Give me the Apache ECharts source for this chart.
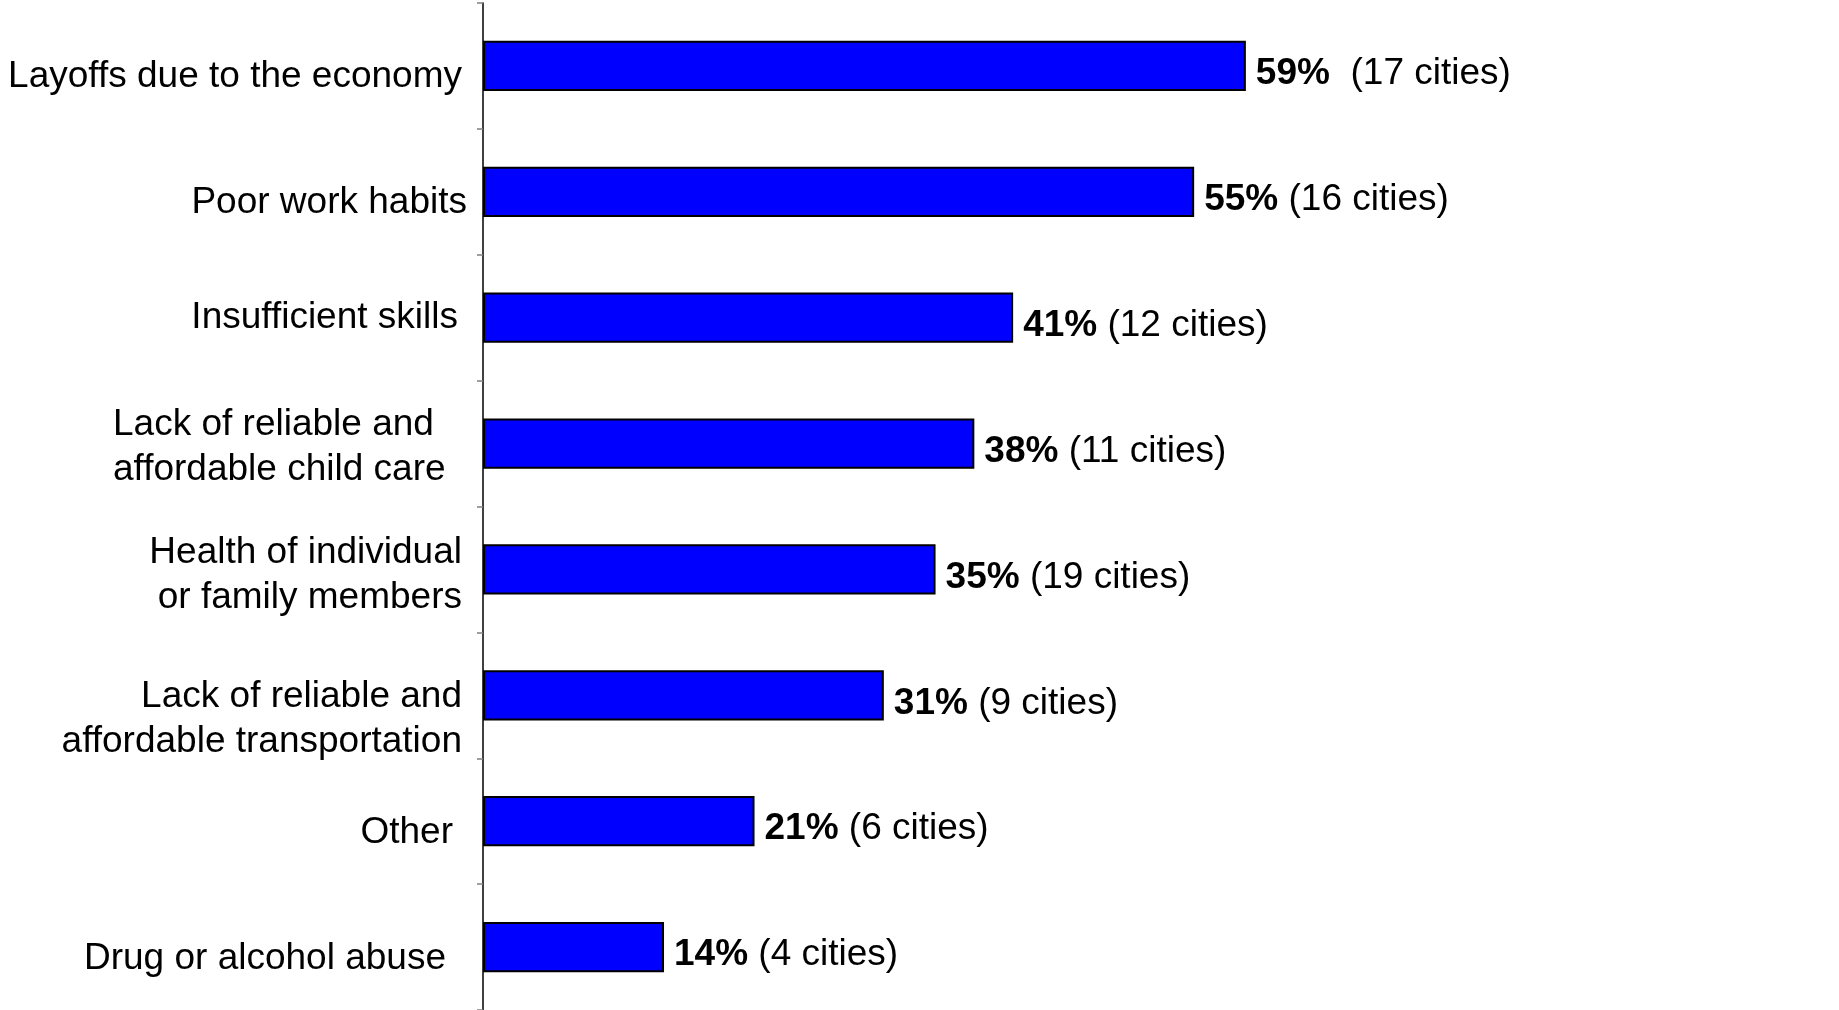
<!DOCTYPE html>
<html>
<head>
<meta charset="utf-8">
<title>Reasons for requests</title>
<script src="https://cdn.jsdelivr.net/npm/echarts@6/dist/echarts.min.js"></script>
<style>
  html, body { margin: 0; padding: 0; background: #fff; }
  #chart { width: 1839px; height: 1010px; }
</style>
</head>
<body>
<div id="chart"></div>
<script>
// Categories, top to bottom
const categories = [
  'Layoffs due to the economy',
  'Poor work habits',
  'Insufficient skills',
  'Lack of reliable and\naffordable child care',
  'Health of individual\nor family members',
  'Lack of reliable and\naffordable transportation',
  'Other',
  'Drug or alcohol abuse'
];

// Share of cities citing each reason (%)
const percentValues = [59, 55, 41, 38, 35, 31, 21, 14];

// Number of cities behind each share
const cityCounts = [17, 16, 12, 11, 19, 9, 6, 4];

// Per-label nudges for the category text: [top, right, bottom]
const labelNudge = [
  [22, 5, 0],
  [21, 0, 0],
  [0, 9, 0],
  [8, 22, 0],
  [12, 5, 0],
  [48, 5, 0],
  [24, 14, 0],
  [24, 21, 0]
];

const FONT = '"Liberation Sans", Arial, Helvetica, sans-serif';
const SIZE = 37;

const chart = echarts.init(document.getElementById('chart'), null, { renderer: 'canvas' });

const yData = categories.map((name, i) => {
  const n = labelNudge[i];
  return {
    value: name,
    textStyle: { padding: [n[0], n[1], n[2], 0] }
  };
});

chart.setOption({
  animation: false,
  backgroundColor: '#ffffff',
  grid: { left: 483, top: 3, width: 1293, height: 1008, containLabel: false },
  xAxis: {
    type: 'value',
    min: 0,
    max: 100,
    show: false
  },
  yAxis: {
    type: 'category',
    inverse: true,
    data: yData,
    axisLine: { show: true, lineStyle: { color: '#000000', width: 1.5 } },
    axisTick: { show: true, inside: false, length: 6, lineStyle: { color: '#808080', width: 1.5 } },
    splitLine: { show: false },
    axisLabel: {
      margin: 16,
      fontFamily: FONT,
      fontSize: SIZE,
      lineHeight: 45,
      color: '#000000',
      align: 'right',
      formatter: function (value, index) {
        if (index === 3) {
          // block of two lines, left-aligned inside
          return value.split('\n').map(l => '{cc|' + l + '}').join('\n');
        }
        return value;
      },
      rich: {
        cc: { width: 332, align: 'left', fontFamily: FONT, fontSize: SIZE, lineHeight: 45, color: '#000000' }
      }
    }
  },
  series: [{
    type: 'bar',
    data: percentValues,
    barCategoryGap: '60%',
    itemStyle: { color: '#0000FF', borderColor: '#000000', borderWidth: 2 },
    label: {
      show: true,
      position: 'right',
      distance: 10,
      offset: [0, 8],
      formatter: function (p) {
        const gap = p.dataIndex === 0 ? '  ' : ' ';
        return '{b|' + p.value + '%}{n|' + gap + '(' + cityCounts[p.dataIndex] + ' cities)}';
      },
      rich: {
        b: { fontFamily: FONT, fontSize: SIZE, fontWeight: 'bold', color: '#000000' },
        n: { fontFamily: FONT, fontSize: SIZE, color: '#000000' }
      }
    }
  }]
});
</script>
</body>
</html>
